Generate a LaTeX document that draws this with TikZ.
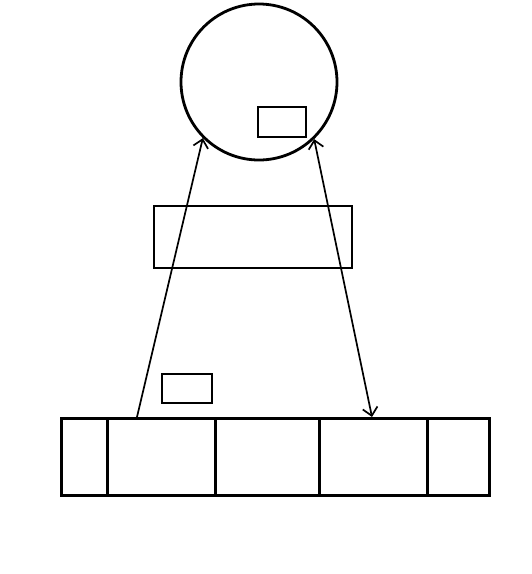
\documentclass[tikz,border=0pt]{standalone}
\usetikzlibrary{arrows.meta}
\begin{document}
\begin{tikzpicture}[x=1pt,y=-1pt,
  shapeline/.style={draw=black,line width=2.8pt},
  conn/.style={draw=black,line width=1.7pt},
  barb/.tip={Straight Barb[length=8pt,width=15pt,line width=1.7pt]}]
\useasboundingbox (0,0) rectangle (532,574);
% circle with small rect
\node[shapeline,circle,minimum size=156pt,inner sep=0pt] (circ) at (259,82) {};
\node[shapeline,rectangle,minimum width=48pt,minimum height=30pt,inner sep=0pt] (inner) at (282,122) {};
% middle rectangle
\node[shapeline,rectangle,minimum width=198pt,minimum height=62pt,inner sep=0pt] (mid) at (253,237) {};
% small rect lower
\node[shapeline,rectangle,minimum width=50pt,minimum height=29pt,inner sep=0pt] (small) at (187,388.5) {};
% bottom row
\node[shapeline,rectangle,minimum width=46pt,minimum height=77pt,inner sep=0pt,anchor=north west] (c1) at (60,417) {};
\node[shapeline,rectangle,minimum width=108pt,minimum height=77pt,inner sep=0pt,anchor=north west] (c2) at (106,417) {};
\node[shapeline,rectangle,minimum width=104pt,minimum height=77pt,inner sep=0pt,anchor=north west] (c3) at (214,417) {};
\node[shapeline,rectangle,minimum width=108pt,minimum height=77pt,inner sep=0pt,anchor=north west] (c4) at (318,417) {};
\node[shapeline,rectangle,minimum width=62pt,minimum height=77pt,inner sep=0pt,anchor=north west] (c5) at (426,417) {};
% connectors
\coordinate (a1) at (137,417);
\coordinate (a2) at (372,417);
\draw[conn,-barb] (a1) -- (circ.{225});
\draw[conn,barb-barb] (circ.{-46}) -- (a2);
\end{tikzpicture}
\end{document}
